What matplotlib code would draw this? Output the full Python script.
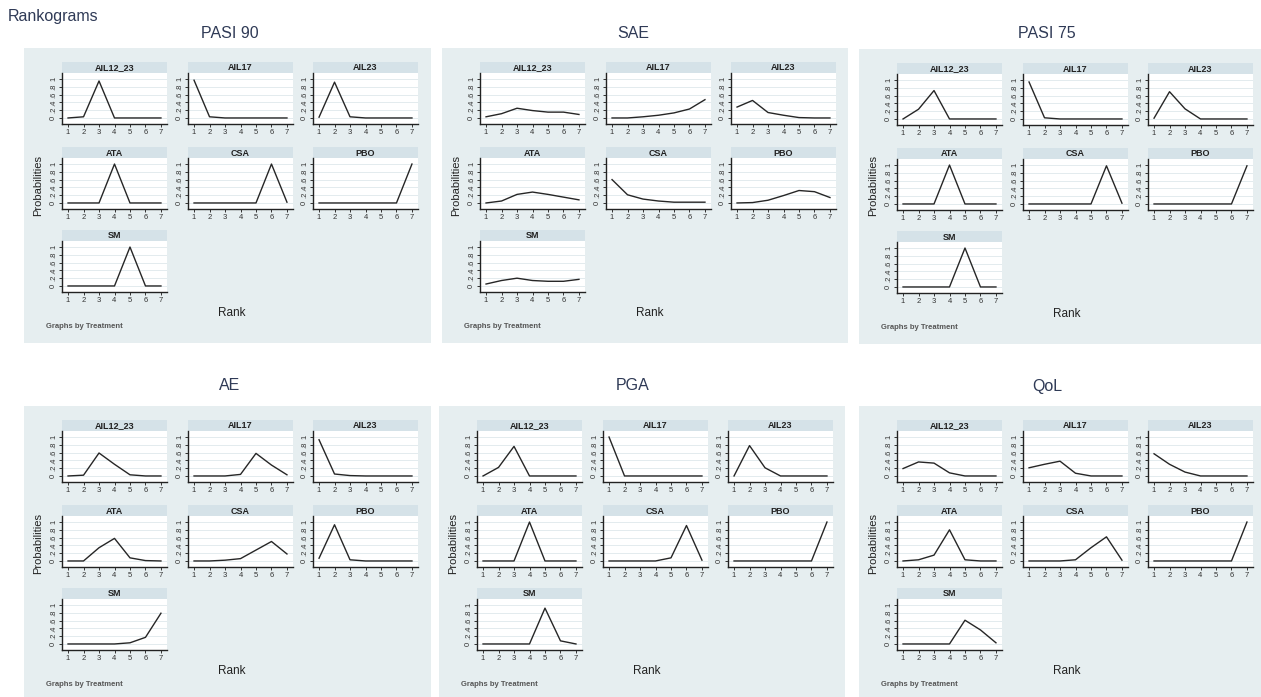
import matplotlib.pyplot as plt
from matplotlib.patches import Rectangle

W, H = 1261, 697

treatments = ['AIL12_23', 'AIL17', 'AIL23', 'ATA', 'CSA', 'PBO', 'SM']
ranks = [1, 2, 3, 4, 5, 6, 7]
outcomes = ['PASI 90', 'SAE', 'PASI 75', 'AE', 'PGA', 'QoL']

# probability of each rank, one row per treatment (same order as treatments)
pasi90 = [
    [0.00, 0.03, 0.95, 0.00, 0.00, 0.00, 0.00],
    [0.97, 0.03, 0.00, 0.00, 0.00, 0.00, 0.00],
    [0.02, 0.92, 0.03, 0.00, 0.00, 0.00, 0.00],
    [0.00, 0.00, 0.00, 1.00, 0.00, 0.00, 0.00],
    [0.00, 0.00, 0.00, 0.00, 0.00, 1.00, 0.02],
    [0.00, 0.00, 0.00, 0.00, 0.00, 0.00, 1.00],
    [0.00, 0.00, 0.00, 0.00, 1.00, 0.00, 0.00],
]
sae = [
    [0.03, 0.11, 0.25, 0.19, 0.15, 0.15, 0.09],
    [0.00, 0.00, 0.03, 0.07, 0.13, 0.23, 0.47],
    [0.28, 0.45, 0.14, 0.07, 0.01, 0.00, 0.00],
    [0.00, 0.05, 0.22, 0.28, 0.22, 0.15, 0.08],
    [0.60, 0.21, 0.10, 0.05, 0.02, 0.02, 0.02],
    [0.00, 0.01, 0.07, 0.19, 0.32, 0.29, 0.14],
    [0.05, 0.14, 0.20, 0.14, 0.12, 0.12, 0.17],
]
pasi75 = [
    [0.00, 0.25, 0.73, 0.00, 0.00, 0.00, 0.00],
    [0.95, 0.03, 0.00, 0.00, 0.00, 0.00, 0.00],
    [0.02, 0.70, 0.26, 0.00, 0.00, 0.00, 0.00],
    [0.00, 0.00, 0.00, 1.00, 0.00, 0.00, 0.00],
    [0.00, 0.00, 0.00, 0.00, 0.00, 0.98, 0.02],
    [0.00, 0.00, 0.00, 0.00, 0.00, 0.00, 0.98],
    [0.00, 0.00, 0.00, 0.00, 1.00, 0.00, 0.00],
]
ae = [
    [0.00, 0.02, 0.59, 0.30, 0.03, 0.00, 0.00],
    [0.00, 0.00, 0.00, 0.04, 0.58, 0.28, 0.03],
    [0.93, 0.05, 0.01, 0.00, 0.00, 0.00, 0.00],
    [0.00, 0.00, 0.34, 0.58, 0.08, 0.01, 0.00],
    [0.00, 0.00, 0.02, 0.06, 0.28, 0.50, 0.18],
    [0.07, 0.93, 0.03, 0.00, 0.00, 0.00, 0.00],
    [0.00, 0.00, 0.00, 0.00, 0.03, 0.17, 0.79],
]
pga = [
    [0.00, 0.22, 0.76, 0.00, 0.00, 0.00, 0.00],
    [1.00, 0.00, 0.00, 0.00, 0.00, 0.00, 0.00],
    [0.00, 0.78, 0.21, 0.00, 0.00, 0.00, 0.00],
    [0.00, 0.00, 0.00, 1.00, 0.00, 0.00, 0.00],
    [0.00, 0.00, 0.00, 0.00, 0.08, 0.91, 0.02],
    [0.00, 0.00, 0.00, 0.00, 0.00, 0.00, 1.00],
    [0.00, 0.00, 0.00, 0.00, 0.92, 0.08, 0.00],
]
qol = [
    [0.19, 0.36, 0.33, 0.08, 0.00, 0.00, 0.00],
    [0.21, 0.30, 0.38, 0.07, 0.00, 0.00, 0.00],
    [0.57, 0.30, 0.10, 0.00, 0.00, 0.00, 0.00],
    [0.00, 0.03, 0.15, 0.80, 0.03, 0.00, 0.00],
    [0.00, 0.00, 0.00, 0.03, 0.34, 0.62, 0.02],
    [0.00, 0.00, 0.00, 0.00, 0.00, 0.00, 1.00],
    [0.00, 0.00, 0.00, 0.00, 0.61, 0.36, 0.03],
]
outcome_data = [pasi90, sae, pasi75, ae, pga, qol]

# panel boxes in pixels: left, top, width, height; title centre x, title y
panels = [
    (24, 48, 407, 295, 230, 34),
    (442, 48, 406, 295, 633, 34),
    (859, 49, 402, 295, 1047, 34),
    (24, 406, 407, 291, 230, 386),
    (439, 406, 406, 291, 633, 386),
    (859, 406, 402, 291, 1047, 386),
]

BG = '#e6eef0'
STRIP = '#d5e2e8'
TXT = '#2f3a56'

plt.rcParams['font.family'] = ['Liberation Sans', 'DejaVu Sans']

fig = plt.figure(figsize=(W / 100, H / 100), dpi=100)
fig.patch.set_facecolor('white')


def fx(x):
    return x / W


def fy(y):
    return 1 - y / H


def add_rect(x, y, w, h, color):
    fig.add_artist(Rectangle((fx(x), fy(y + h)), w / W, h / H,
                             transform=fig.transFigure, facecolor=color,
                             edgecolor='none', zorder=0))


fig.text(fx(8), fy(17), 'Rankograms', fontsize=11.5, color=TXT,
         ha='left', va='center')

col_x = [38, 164, 289]
strip_y = [14, 99, 182]
sw, sh, ph = 105, 11, 51

for name, data, (px, py, pw, phh, tx, ty) in zip(outcomes, outcome_data, panels):
    add_rect(px, py, pw, phh, BG)
    fig.text(fx(tx), fy(ty), name, fontsize=11.5, color=TXT,
             ha='center', va='center')

    for i, (trt, probs) in enumerate(zip(treatments, data)):
        r, c = divmod(i, 3)
        x0 = px + col_x[c]
        y0 = py + strip_y[r]
        add_rect(x0, y0, sw, sh, STRIP)
        fig.text(fx(x0 + sw / 2), fy(y0 + sh / 2 + 0.5), trt, fontsize=6.5,
                 color='#222222', ha='center', va='center', weight='bold')

        ax = fig.add_axes([fx(x0), fy(y0 + sh + ph), sw / W, ph / H])
        ax.set_facecolor('white')
        ax.plot(ranks, probs, color='#262626', lw=1.0)
        ax.set_xlim(0.61, 7.39)
        ax.set_ylim(-0.155, 1.155)
        ax.set_xticks(ranks)
        ax.set_yticks([0, 0.2, 0.4, 0.6, 0.8, 1.0])
        ax.set_yticklabels(['0', '.2', '.4', '.6', '.8', '1'], rotation=90,
                           va='center')
        ax.tick_params(labelsize=5.5, length=2, width=0.7, pad=1.5,
                       colors='#333333')
        ax.grid(axis='y', color='#e3ebee', lw=0.7)
        ax.set_axisbelow(True)
        for s in ['top', 'right']:
            ax.spines[s].set_visible(False)
        for s in ['left', 'bottom']:
            ax.spines[s].set_linewidth(1.0)
            ax.spines[s].set_color('#222222')

    fig.text(fx(px + 208), fy(py + 265), 'Rank', fontsize=8.5, color='#222222',
             ha='center', va='center')
    fig.text(fx(px + 14), fy(py + 137), 'Probabilities', fontsize=8,
             color='#222222', ha='center', va='center', rotation=90)
    fig.text(fx(px + 22), fy(py + 278), 'Graphs by Treatment', fontsize=5.5,
             color='#555555', ha='left', va='center', weight='bold')

fig.savefig('out.png', dpi=100)
